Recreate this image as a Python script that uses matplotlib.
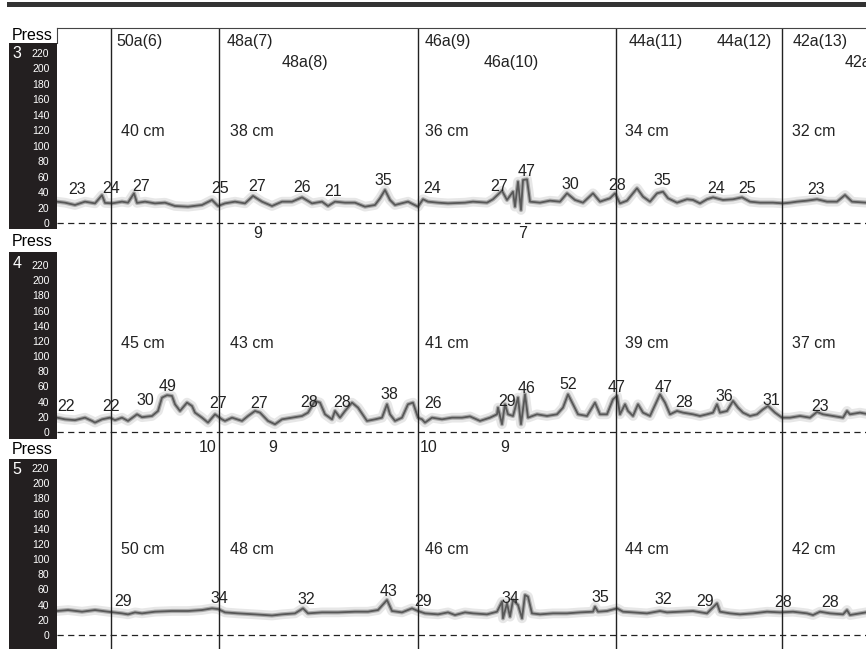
import matplotlib
matplotlib.use('Agg')
import matplotlib.pyplot as plt
from matplotlib.patches import Rectangle
from matplotlib.lines import Line2D

plt.rcParams['font.family'] = ['Liberation Sans', 'DejaVu Sans']

W, H = 866, 649

# ---- pressure traces (time column, mmHg) ----
t3 = [57, 65, 75, 85, 95, 102, 105, 112, 122, 128, 134, 137, 145, 155, 165, 175, 188, 202, 212, 218,
      225, 235, 245, 253, 262, 272, 282, 292, 302, 312, 322, 328, 335, 345, 355, 365, 375, 380, 385, 390,
      395, 408, 418, 423, 428, 438, 448, 465, 473, 487, 493, 502, 507, 513, 515, 518, 521, 523, 527, 530,
      540, 550, 560, 567, 575, 583, 593, 600, 610, 615, 620, 627, 637, 643, 650, 657, 663, 668, 677, 687,
      693, 700, 707, 713, 723, 733, 742, 750, 760, 773, 783, 790, 797, 807, 817, 827, 837, 845, 852, 866]
p3 = [27.6, 26.3, 23.3, 27.6, 25.4, 36, 26, 25.4, 27.6, 26.3, 38.4, 26, 27.6, 25.4, 26.3, 22, 21.1, 23.3, 29.8, 22,
      25.4, 27.6, 25.4, 35, 27.6, 22, 27.6, 27.6, 33.2, 25.4, 27.6, 22, 27.6, 26.3, 26.3, 21.1, 23.3, 32, 42.7, 29.8,
      23.3, 27.6, 21.1, 30.7, 27.6, 26.3, 25.4, 26.3, 27.6, 26.3, 30.7, 41.8, 29.8, 40.5, 21.1, 53.5, 16.8, 55.6, 56.5, 27.6,
      26.3, 28.9, 27.6, 38.4, 29.8, 26.3, 38.4, 27.6, 32, 38.4, 25.4, 28.9, 44.9, 34.1, 27.6, 38.4, 40.5, 32, 26.3, 30.7,
      29.8, 25.4, 30.7, 33.2, 29.8, 30.7, 33.2, 27.6, 26.3, 26.3, 25.4, 26.3, 27.6, 28.9, 30.7, 27.6, 27.6, 36.2, 27.6, 26.3]

t4 = [57, 65, 75, 85, 92, 95, 102, 110, 115, 122, 128, 137, 142, 152, 158, 162, 167, 172, 175, 180,
      187, 192, 195, 202, 208, 215, 222, 225, 232, 242, 248, 255, 260, 268, 275, 282, 292, 302, 308, 315,
      320, 325, 332, 335, 340, 345, 352, 358, 367, 375, 382, 387, 390, 395, 402, 408, 413, 418, 422, 425,
      432, 442, 452, 462, 470, 480, 490, 497, 498, 502, 505, 508, 513, 518, 521, 525, 528, 537, 547, 557,
      563, 568, 573, 578, 587, 595, 600, 607, 613, 617, 620, 625, 628, 633, 638, 643, 650, 657, 660, 665,
      670, 677, 683, 693, 700, 707, 713, 717, 720, 727, 733, 738, 743, 750, 757, 763, 768, 775, 782, 790,
      800, 810, 817, 823, 833, 843, 847, 850, 860, 866]
p4 = [18.9, 16.7, 15.6, 18.9, 14.6, 12.4, 16.7, 18.9, 15.6, 18.9, 14.6, 23.3, 19.5, 21.1, 27.7, 45.3, 48.5, 47.5, 36.5, 27.7,
      38.7, 34.3, 25.5, 18.9, 12.4, 23.3, 16.7, 14.6, 18.9, 14.6, 21.1, 27.7, 25.5, 14.6, 10.2, 16.7, 18.9, 21.1, 25.5, 40.9,
      38.7, 23.3, 16.7, 27.7, 18.9, 27.7, 38.7, 32.1, 14.6, 16.7, 18.9, 36.5, 23.3, 14.6, 18.9, 36.5, 38.7, 18.9, 16.7, 12.4,
      18.9, 16.7, 18.9, 18.9, 20.5, 14.6, 18.9, 23.3, 32.1, 10.2, 36.5, 23.3, 21.1, 45.3, 10.2, 49.6, 18.9, 23.3, 21.1, 23.3,
      32.1, 49.6, 36.5, 23.3, 21.1, 38.7, 23.3, 23.3, 43.1, 47.5, 23.3, 36.5, 27.7, 21.1, 36.5, 25.5, 21.1, 40.9, 49.6, 38.7,
      23.3, 27.7, 25.5, 23.3, 21.1, 23.3, 25.5, 36.5, 25.5, 27.7, 40.9, 32.1, 25.5, 21.1, 23.3, 29.9, 34.3, 25.5, 18.9, 18.9,
      21.1, 18.9, 26.4, 23.3, 21.1, 18.9, 27.7, 23.3, 25.5, 24]

t5 = [57, 68, 82, 95, 108, 122, 128, 135, 142, 155, 172, 188, 202, 212, 218, 225, 238, 255, 272, 282,
      295, 303, 308, 322, 338, 355, 368, 378, 387, 392, 402, 412, 418, 425, 438, 448, 455, 465, 473, 487,
      497, 502, 503, 507, 510, 513, 518, 522, 525, 528, 532, 540, 553, 567, 580, 593, 595, 598, 607, 617,
      623, 633, 647, 660, 667, 680, 693, 707, 717, 720, 730, 740, 753, 767, 780, 793, 807, 813, 820, 830,
      843, 847, 850, 866]
p5 = [31.6, 32.9, 30.7, 32.9, 30.7, 28.5, 27.2, 29.8, 28.5, 30.7, 31.6, 31.6, 32.9, 35.1, 34.2, 29.8, 28.5, 27.2, 25.7, 27.2,
      28.5, 35.1, 28.5, 29.8, 29.8, 30.7, 30.7, 32.9, 46.1, 31.6, 29.8, 35.1, 31.6, 28.5, 27.2, 29.8, 26.3, 29.8, 28.5, 27.2,
      30.7, 43.9, 21.9, 41.7, 24.1, 46.1, 39.5, 21.9, 52.7, 50.5, 28.5, 27.2, 28.5, 28.5, 29.8, 30.7, 37.3, 30.7, 31.6, 35.1,
      30.7, 29.8, 28.5, 31.6, 29.8, 30.7, 31.6, 28.5, 41.7, 30.7, 28.5, 27.2, 28.5, 30.7, 29.8, 30.7, 28.5, 26.3, 30.7, 28.5,
      27.2, 32.9, 26.3, 29.8]

# swallow event markers
events = [111, 219, 418, 616, 782]
swallows = ['50a(6)', '48a(7)', '48a(8)', '46a(9)', '46a(10)', '44a(11)', '44a(12)', '42a(13)', '42a(14)']
swallow_t = [116, 227, 282, 425, 484, 629, 717, 793, 845]
swallow_row = [0, 0, 1, 0, 1, 0, 0, 0, 1]

# sensor depths
depth3 = ['40 cm', '38 cm', '36 cm', '34 cm', '32 cm']
depth4 = ['45 cm', '43 cm', '41 cm', '39 cm', '37 cm']
depth5 = ['50 cm', '48 cm', '46 cm', '44 cm', '42 cm']
depth_t = [121, 230, 425, 625, 792]

# peak amplitudes
peak3_t = [77, 111, 141, 220, 257, 302, 333, 383, 432, 499, 527, 570, 617, 662, 716, 747, 816]
peak3_v = [23, 24, 27, 25, 27, 26, 21, 35, 24, 27, 47, 30, 28, 35, 24, 25, 23]
peak4_t = [66, 111, 145, 168, 218, 259, 309, 342, 389, 433, 507, 527, 568, 617, 664, 684, 724, 771, 820]
peak4_v = [22, 22, 30, 49, 27, 27, 28, 28, 38, 26, 29, 46, 52, 47, 47, 28, 36, 31, 23]
peak5_t = [123, 219, 306, 389, 423, 510, 600, 663, 705, 783, 830]
peak5_v = [29, 34, 32, 43, 29, 34, 35, 32, 29, 28, 28]

# durations shown under the baseline
dip3_t = [258, 523]
dip3_v = [9, 7]
dip4_t = [208, 273, 429, 505]
dip4_v = [10, 9, 10, 9]
dip5_t = []
dip5_v = []

# strip layout in pixel rows: strip top/bottom, 0 mmHg row, px per mmHg, black column, label rows
channels = [
    dict(num='3', t=t3, p=p3, pt=peak3_t, pv=peak3_v, dt=dip3_t, dv=dip3_v, depths=depth3,
         top=28, bottom=242, zero=223, scale=0.773, black=(43, 229), press=36, lift=20, dip_y=-13, depth_y=118),
    dict(num='4', t=t4, p=p4, pt=peak4_t, pv=peak4_v, dt=dip4_t, dv=dip4_v, depths=depth4,
         top=242, bottom=450, zero=432, scale=0.759, black=(252, 439), press=241, lift=11, dip_y=-21, depth_y=116),
    dict(num='5', t=t5, p=p5, pt=peak5_t, pv=peak5_v, dt=dip5_t, dv=dip5_v, depths=depth5,
         top=450, bottom=649, zero=635, scale=0.759, black=(459, 649), press=449, lift=14.5, dip_y=-20, depth_y=113),
]

LEFT = 57
FS = 11.5


def fx(x):
    return x / W


def fy(y):
    return 1 - y / H


fig = plt.figure(figsize=(W / 100, H / 100), dpi=100)
fig.patch.set_facecolor('white')

# thick rule at the top
fig.add_artist(Rectangle((fx(7), fy(7)), 1 - fx(7), 5 / H, transform=fig.transFigure,
                         facecolor='#333333', edgecolor='none', zorder=-1))
fig.add_artist(Line2D([fx(LEFT), 1], [fy(28), fy(28)], transform=fig.transFigure, color='#444444', lw=0.8))
fig.add_artist(Line2D([fx(LEFT), fx(LEFT)], [fy(28), fy(43)], transform=fig.transFigure, color='#444444', lw=0.8))

axes = []
for ch in channels:
    ax = fig.add_axes([fx(LEFT), fy(ch['bottom']), 1 - fx(LEFT), (ch['bottom'] - ch['top']) / H])
    axes.append(ax)
    ax.set_xlim(LEFT, W)
    ax.set_ylim((ch['zero'] - ch['bottom']) / ch['scale'], (ch['zero'] - ch['top']) / ch['scale'])
    ax.set_facecolor('none')
    for s in ax.spines.values():
        s.set_visible(False)
    ax.set_xticks([])
    ax.set_yticks(range(0, 221, 20))
    ax.tick_params(axis='y', length=0, pad=5.5, labelsize=7.5, labelcolor='white')

    # black scale column
    b0, b1 = ch['black']
    fig.add_artist(Rectangle((fx(9), fy(b1)), (LEFT - 9) / W, (b1 - b0) / H, transform=fig.transFigure,
                             facecolor='#231f20', edgecolor='none', zorder=-1))
    fig.text(fx(32), fy(ch['press']), 'Press', ha='center', va='center', fontsize=FS)
    fig.text(fx(17), fy(b0 + 11), ch['num'], ha='center', va='center', fontsize=11.5, color='white')

    # trace (blurred look)
    ax.plot(ch['t'], ch['p'], color='#d0d0d0', lw=7, alpha=0.5, solid_joinstyle='round', zorder=2)
    ax.plot(ch['t'], ch['p'], color='#9a9a9a', lw=3, alpha=0.8, solid_joinstyle='round', zorder=2)
    ax.plot(ch['t'], ch['p'], color='#585858', lw=1.3, solid_joinstyle='round', zorder=3)
    ax.axhline(0, color='#222222', lw=0.9, ls=(0, (5, 3.5)), zorder=1)
    for e in events:
        ax.axvline(e, color='#222222', lw=1.0, zorder=4)

    for x, v in zip(ch['pt'], ch['pv']):
        ax.text(x, v + ch['lift'], str(v), ha='center', va='center', fontsize=FS, color='#222222')
    for x, v in zip(ch['dt'], ch['dv']):
        ax.text(x, ch['dip_y'], str(v), ha='center', va='center', fontsize=FS, color='#222222')
    for x, lab in zip(depth_t, ch['depths']):
        ax.text(x, ch['depth_y'], lab, ha='left', va='center', fontsize=FS, color='#222222')

ax3 = axes[0]
for lab, x, r in zip(swallows, swallow_t, swallow_row):
    ax3.text(x, 235 - 27 * r, lab, ha='left', va='center', fontsize=FS, color='#222222', clip_on=False)

fig.savefig('out.png', dpi=100)
